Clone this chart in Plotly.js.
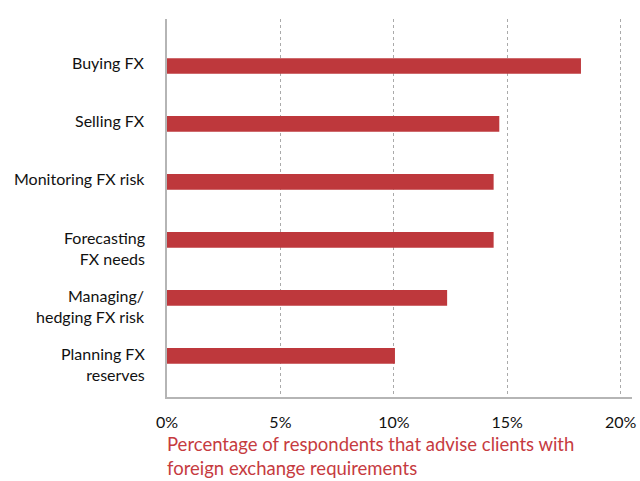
<!DOCTYPE html>
<html>
<head>
<meta charset="utf-8">
<script src="https://cdn.plot.ly/plotly-3.0.1.min.js"></script>
<style>html,body{margin:0;padding:0;background:#fff;}#chart{width:640px;height:481px;}</style>
</head>
<body>
<div id="chart"></div>
<script>
const categories = ["Buying FX", "Selling FX", "Monitoring FX risk", "Forecasting<br>FX needs", "Managing/<br>hedging FX risk", "Planning FX<br>reserves"];
const values = [18.25, 14.65, 14.4, 14.4, 12.35, 10.05];
const tickVals = [0, 5, 10, 15, 20];
const tickLabels = ["0%", "5%", "10%", "15%", "20%"];

const FONT = 'Lato, "Open Sans", sans-serif';

const trace = {
  type: 'bar',
  orientation: 'h',
  x: values,
  y: categories,
  width: 0.27,
  marker: {color: '#be383c'},
  hoverinfo: 'x+y'
};

// category labels drawn as annotations so multi-line labels can sit like the original
const labelAnnotations = categories.map(c => ({
  xref: 'paper', x: 0, xanchor: 'right', xshift: -20,
  yref: 'y', y: c, yanchor: 'middle',
  yshift: c.indexOf('<br>') >= 0 ? -8 : 3,
  text: c, align: 'right', showarrow: false,
  font: {family: FONT, size: 16, color: '#111'}
}));

const layout = {
  width: 640,
  height: 481,
  margin: {l: 167, r: 8, t: 19, b: 84},
  paper_bgcolor: '#fff',
  plot_bgcolor: '#fff',
  font: {family: FONT, color: '#111', size: 16},
  showlegend: false,
  title: {
    text: 'Percentage of respondents that advise clients with<br>foreign exchange requirements',
    font: {family: FONT, size: 18.5, color: '#c63b3f'},
    xref: 'paper', x: 0, xanchor: 'left',
    yref: 'container', y: 0.062, yanchor: 'top'
  },
  annotations: labelAnnotations,
  xaxis: {
    range: [0, 20.5],
    tickvals: tickVals,
    ticktext: tickLabels,
    showgrid: true,
    gridcolor: '#aaa',
    griddash: 'dot',
    gridwidth: 1,
    zeroline: false,
    showline: true,
    linecolor: '#b5b5b5',
    linewidth: 2,
    ticks: 'outside',
    ticklen: 10,
    tickcolor: 'rgba(0,0,0,0)',
    tickfont: {family: FONT, size: 16, color: '#111'},
    fixedrange: true
  },
  yaxis: {
    type: 'category',
    categoryorder: 'array',
    categoryarray: categories,
    range: [5.71, -0.81],
    showgrid: false,
    zeroline: false,
    showline: true,
    linecolor: '#b5b5b5',
    linewidth: 2,
    showticklabels: false,
    ticks: '',
    fixedrange: true
  }
};

Plotly.newPlot('chart', [trace], layout, {displayModeBar: false, staticPlot: true});
</script>
</body>
</html>
